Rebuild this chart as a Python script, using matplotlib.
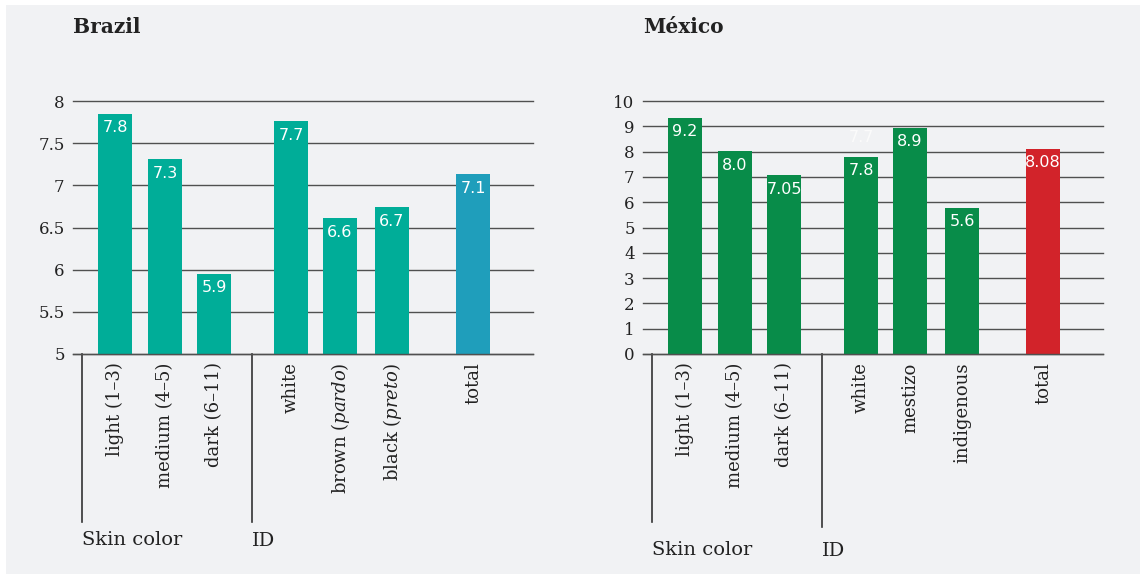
import matplotlib
matplotlib.use('Agg')
from matplotlib import pyplot as plt
from matplotlib.patches import Rectangle

plt.rcParams['mathtext.fontset'] = 'custom'
plt.rcParams['mathtext.rm'] = 'DejaVu Serif'
plt.rcParams['mathtext.it'] = 'DejaVu Serif:italic'

# Brazil
brazil_labels = ['light (1–3)', 'medium (4–5)', 'dark (6–11)',
                 'white', r'brown ($\it{pardo}$)', r'black ($\it{preto}$)', 'total']
brazil_values = [7.85, 7.31, 5.95, 7.76, 6.61, 6.74, 7.13]
brazil_text = ['7.8', '7.3', '5.9', '7.7', '6.6', '6.7', '7.1']
brazil_ticks = [5, 5.5, 6, 6.5, 7, 7.5, 8]
brazil_ticklabels = ['5', '5.5', '6', '6.5', '7', '7.5', '8']

# México
mexico_labels = ['light (1–3)', 'medium (4–5)', 'dark (6–11)',
                 'white', 'mestizo', 'indigenous', 'total']
mexico_values = [9.33, 8.01, 7.07, 7.79, 8.93, 5.77, 8.10]
mexico_text = ['9.2', '8.0', '7.05', '7.8', '8.9', '5.6', '8.08']
mexico_ticks = list(range(0, 11))

groups = ['Skin color', 'ID']

BG = '#f1f2f4'
GRID = '#505050'
W, H = 1144, 583

# bar slots: three skin-colour bars, three ID bars, then total
pos = [0, 1, 1.98, 3.52, 4.5, 5.54, 7.16]
sep = [-0.66, 2.74]


def px_axes(fig, left, right, top, bottom):
    return fig.add_axes([left / W, (H - bottom) / H, (right - left) / W, (bottom - top) / H])


def draw_panel(ax, title, labels, values, texts, colors, ticks, ticklabels, ylim,
               line_ends, group_y):
    ax.set_facecolor('none')
    ax.set_xlim(-0.84, 8.36)
    ax.set_ylim(*ylim)
    for t in ticks:
        ax.axhline(t, color=GRID, lw=1.0, zorder=1, clip_on=False)
    ax.bar(pos, values, width=0.68, color=colors, zorder=2)
    ax.axhline(ticks[0], color=GRID, lw=1.0, zorder=2.5, clip_on=False)
    for x, v, t in zip(pos, values, texts):
        ax.annotate(t, (x, v), xytext=(0, -10), textcoords='offset points',
                    ha='center', va='center', color='white', fontsize=11.5,
                    family='DejaVu Sans', zorder=3)
    for s in ax.spines.values():
        s.set_visible(False)
    ax.set_yticks(ticks)
    ax.set_yticklabels(ticklabels, family='DejaVu Serif', fontsize=12, color='#222222')
    ax.tick_params(axis='y', length=0, pad=6)
    ax.set_xticks(pos)
    ax.set_xticklabels(labels, rotation=90, family='DejaVu Serif', fontsize=13,
                       color='#222222', va='top', ha='center')
    ax.tick_params(axis='x', length=0, pad=6)
    tr = ax.get_xaxis_transform()
    for x, yend, g, gy in zip(sep, line_ends, groups, group_y):
        ax.plot([x, x], [0, yend], color='#333333', lw=1.2, transform=tr, clip_on=False)
        ax.text(x, gy, g, transform=tr, ha='left', va='center', family='DejaVu Serif',
                fontsize=14, color='#222222')
    ax.text(0, 1.0 + 74 / 253, title, transform=ax.transAxes, ha='left', va='center',
            family='DejaVu Serif', fontweight='bold', fontsize=14.5, color='#222222')


fig = plt.figure(figsize=(W / 100, H / 100), dpi=100)
fig.patch.set_facecolor('white')
fig.add_artist(Rectangle((6 / W, 9 / H), (W - 10) / W, (H - 14) / H,
                         transform=fig.transFigure, facecolor=BG, edgecolor='none', zorder=0))

ax1 = px_axes(fig, 73, 533, 101, 354)
draw_panel(ax1, 'Brazil', brazil_labels, brazil_values, brazil_text,
           ['#00ad98'] * 6 + ['#1f9ebb'], brazil_ticks, brazil_ticklabels, (5, 8),
           [-0.664, -0.664], [-0.735, -0.739])

ax2 = px_axes(fig, 643, 1103, 101, 354)
draw_panel(ax2, 'México', mexico_labels, mexico_values, mexico_text,
           ['#088c49'] * 6 + ['#d2232a'], mexico_ticks, [str(t) for t in mexico_ticks], (0, 10),
           [-0.664, -0.684], [-0.775, -0.779])
# faint leftover label above the white bar
ax2.annotate('7.7', (pos[3], mexico_values[3]), xytext=(0, 14), textcoords='offset points',
             ha='center', va='center', color='#fbfbfb', fontsize=11.5, family='DejaVu Sans')

fig.savefig('out.png', dpi=100, facecolor=fig.get_facecolor())
